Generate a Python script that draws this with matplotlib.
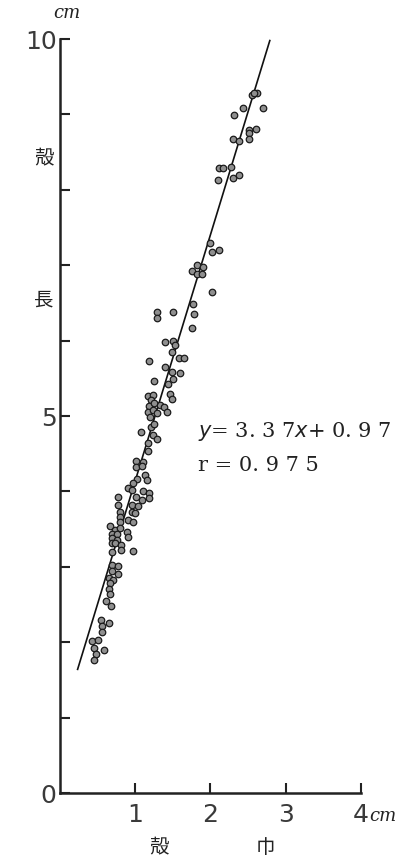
import matplotlib
matplotlib.use("Agg")
import matplotlib.pyplot as plt

# Shell width (x) and shell length (y), in cm
shellWidth = [
    2.62, 2.55, 2.58, 2.43, 2.70, 2.32, 2.51, 2.61, 2.51, 2.51, 2.30, 2.38,
    2.12, 2.17, 2.28, 2.10, 2.30, 2.38,
    1.99, 2.02, 2.12, 1.82, 1.90, 1.76, 1.83, 1.89, 2.02, 1.77,
    1.79, 1.29, 1.29, 1.50, 1.76, 1.40, 1.51, 1.53, 1.49, 1.19, 1.58, 1.65,
    1.40, 1.49, 1.60, 1.51, 1.26, 1.44, 1.47, 1.49, 1.18, 1.24, 1.22, 1.19,
    1.33, 1.39, 1.26, 1.18, 1.24, 1.29, 1.43, 1.20, 1.08, 1.21, 1.26, 1.24,
    1.29, 1.18, 1.18, 1.01, 1.11, 1.02, 1.09, 1.13, 1.16, 1.03, 0.98, 0.91,
    0.96, 1.11, 1.19, 1.19, 0.77, 1.02, 1.09, 0.78, 0.96, 1.04,
    0.80, 0.80, 0.96, 1.00, 0.80, 0.91, 0.98, 0.67, 0.74, 0.80, 0.69, 0.76,
    0.89, 0.91, 0.69, 0.76, 0.69, 0.74, 0.82, 0.82, 0.69, 0.98, 0.69, 0.78,
    0.69, 0.78, 0.65, 0.71, 0.67, 0.65, 0.67,
    0.62, 0.68, 0.55, 0.65, 0.56, 0.57, 0.43, 0.51, 0.46, 0.59, 0.48, 0.46,
]
shellLength = [
    9.29, 9.26, 9.28, 9.09, 9.09, 8.99, 8.80, 8.81, 8.75, 8.68, 8.67, 8.65,
    8.29, 8.29, 8.30, 8.13, 8.16, 8.20,
    7.29, 7.18, 7.20, 7.00, 6.97, 6.93, 6.88, 6.88, 6.65, 6.48,
    6.35, 6.38, 6.30, 6.38, 6.17, 5.98, 6.00, 5.94, 5.85, 5.73, 5.77, 5.77,
    5.65, 5.58, 5.57, 5.49, 5.46, 5.42, 5.29, 5.22, 5.27, 5.28, 5.21, 5.13,
    5.14, 5.12, 5.17, 5.06, 5.08, 5.04, 5.06, 4.99, 4.79, 4.86, 4.89, 4.75,
    4.70, 4.64, 4.53, 4.41, 4.39, 4.33, 4.34, 4.22, 4.15, 4.17, 4.11, 4.04,
    4.02, 4.00, 3.98, 3.91, 3.92, 3.93, 3.89, 3.82, 3.82, 3.81,
    3.73, 3.66, 3.73, 3.71, 3.60, 3.62, 3.60, 3.54, 3.49, 3.51, 3.44, 3.43,
    3.46, 3.40, 3.38, 3.36, 3.31, 3.31, 3.29, 3.22, 3.20, 3.21, 3.02, 3.01,
    2.94, 2.91, 2.85, 2.82, 2.78, 2.71, 2.64,
    2.55, 2.48, 2.29, 2.25, 2.22, 2.14, 2.01, 2.03, 1.92, 1.90, 1.84, 1.77,
]

# Ends of the drawn regression line
lineX = [0.24, 2.79]
lineY = [1.64, 9.98]

equationText = "$y$= 3. 3 7$x$+ 0. 9 7"
corrText = "r = 0. 9 7 5"

yTicks = list(range(0, 11))
yTickLabels = ["0", "", "", "", "", "5", "", "", "", "", "10"]
xTicks = [1, 2, 3, 4]
xTickLabels = ["1", "2", "3", "4"]

figure = plt.figure(figsize=(4.04, 8.6), dpi=100)
axes = figure.add_axes([0.1473, 0.0779, 0.7463, 0.8767])

# Plot the points and the line
axes.scatter(shellWidth, shellLength, s=22, facecolor="#8f8f8f", edgecolor="#1a1a1a", linewidths=0.9, zorder=3)
axes.plot(lineX, lineY, color="#111111", linewidth=1.2, zorder=2)

axes.set_xlim(0, 4)
axes.set_ylim(0, 10)

# Only the left and bottom axis lines
for side in ["top", "right"]:
    axes.spines[side].set_visible(False)
for side in ["left", "bottom"]:
    axes.spines[side].set_linewidth(1.8)
    axes.spines[side].set_color("#222222")

axes.set_yticks(yTicks)
axes.set_yticklabels(yTickLabels)
axes.set_xticks(xTicks)
axes.set_xticklabels(xTickLabels)
axes.tick_params(direction="in", length=7, width=1.5, color="#222222", labelsize=18, labelcolor="#3a3a3a")
axes.tick_params(axis="x", pad=7)
axes.tick_params(axis="y", pad=2)

# Unit labels
figure.text(0.165, 0.985, "cm", fontsize=13, style="italic", family="DejaVu Serif", ha="center", va="center", color="#222222")
figure.text(0.948, 0.051, "cm", fontsize=13, style="italic", family="DejaVu Serif", ha="center", va="center", color="#222222")

# Axis titles written as separate characters
cjkFont = ["Noto Sans CJK JP", "DejaVu Sans"]
figure.text(0.109, 0.816, "殻", fontsize=14, family=cjkFont, ha="center", va="center", color="#222222")
figure.text(0.109, 0.651, "長", fontsize=14, family=cjkFont, ha="center", va="center", color="#222222")
figure.text(0.394, 0.015, "殻", fontsize=14, family=cjkFont, ha="center", va="center", color="#222222")
figure.text(0.658, 0.015, "巾", fontsize=14, family=cjkFont, ha="center", va="center", color="#222222")

# Regression equation and correlation
figure.text(0.49, 0.498, equationText, fontsize=15, family="DejaVu Serif", ha="left", va="center", color="#222222")
figure.text(0.49, 0.459, corrText, fontsize=15, family="DejaVu Serif", ha="left", va="center", color="#222222")

figure.savefig("out.png", dpi=100)
